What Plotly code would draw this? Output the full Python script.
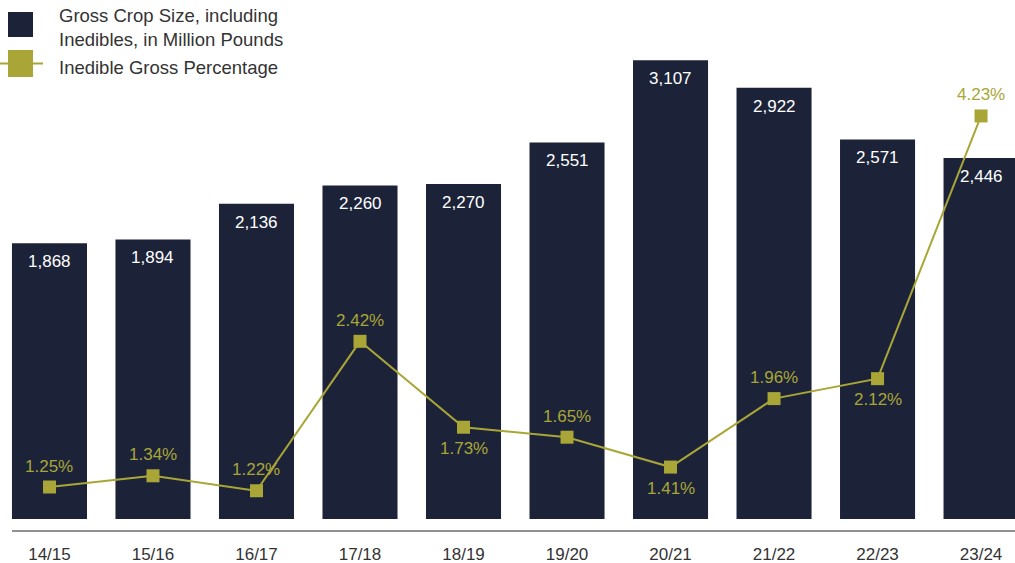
import plotly.graph_objects as go

seasons = ["14/15", "15/16", "16/17", "17/18", "18/19", "19/20", "20/21", "21/22", "22/23", "23/24"]
crop_size = [1868, 1894, 2136, 2260, 2270, 2551, 3107, 2922, 2571, 2446]
inedible_pct = [1.25, 1.34, 1.22, 2.42, 1.73, 1.65, 1.41, 1.96, 2.12, 4.23]
pct_label_pos = ["above", "above", "above", "above", "below", "above", "below", "above", "below", "above"]

NAVY = "#1C2339"
OLIVE = "#A9A637"
FONT = "Liberation Sans, Arial, sans-serif"

x_idx = list(range(len(seasons)))

fig = go.Figure()
fig.add_trace(go.Bar(
    x=x_idx, y=crop_size, marker=dict(color=NAVY, line=dict(width=0)),
    width=0.725, showlegend=False, hoverinfo="skip", yaxis="y",
))
fig.add_trace(go.Scatter(
    x=x_idx, y=inedible_pct, mode="lines+markers", yaxis="y2",
    line=dict(color=OLIVE, width=2),
    marker=dict(symbol="square", size=13, color=OLIVE),
    showlegend=False, hoverinfo="skip", cliponaxis=False,
))

ann = []
for i, v in enumerate(crop_size):
    ann.append(dict(x=i, y=v, xref="x", yref="y", text=f"{v:,}", showarrow=False,
                    yanchor="top", yshift=-7,
                    font=dict(family=FONT, size=17, color="white")))
for i, (v, pos) in enumerate(zip(inedible_pct, pct_label_pos)):
    ann.append(dict(x=i, y=v, xref="x", yref="y2", text=f"{v:.2f}%", showarrow=False,
                    yanchor="middle", yshift=(21 if pos == "above" else -21),
                    font=dict(family=FONT, size=17, color=OLIVE)))

# custom legend
H, W = 563, 1015
def py(px):  # pixel y -> paper y (plot area from 40 to 519)
    return (519 - px) / 479
def px_(x):
    return x / W

legend_text = [("Gross Crop Size, including<br>Inedibles, in Million Pounds", 27.5),
               ("Inedible Gross Percentage", 67)]
for t, yc in legend_text:
    ann.append(dict(x=px_(57), y=py(yc), xref="paper", yref="paper", text=t, showarrow=False,
                    xanchor="left", yanchor="middle", align="left",
                    font=dict(family=FONT, size=18.5, color="#333333")))

shapes = [
    dict(type="rect", xref="paper", yref="paper", x0=px_(8), x1=px_(33), y0=py(37), y1=py(12),
         fillcolor=NAVY, line=dict(width=0)),
    dict(type="line", xref="paper", yref="paper", x0=px_(0), x1=px_(43), y0=py(63.5), y1=py(63.5),
         line=dict(color=OLIVE, width=2)),
    dict(type="rect", xref="paper", yref="paper", x0=px_(8), x1=px_(33), y0=py(77), y1=py(50),
         fillcolor=OLIVE, line=dict(width=0)),
    dict(type="line", xref="paper", yref="paper", x0=px_(12), x1=1, y0=py(531), y1=py(531),
         line=dict(color="#6b6b6b", width=1.5)),
]

fig.update_layout(
    width=W, height=H,
    margin=dict(l=0, r=0, t=40, b=44),
    paper_bgcolor="white", plot_bgcolor="white",
    xaxis=dict(range=[-0.478, 9.328], tickmode="array", tickvals=x_idx, ticktext=seasons,
               showgrid=False, zeroline=False, showline=False, ticks="",
               ticklabelstandoff=23,
               tickfont=dict(family=FONT, size=17, color="#333333")),
    yaxis=dict(range=[0, 3245], visible=False, showgrid=False, zeroline=False),
    yaxis2=dict(range=[0.993, 4.84], overlaying="y", visible=False, showgrid=False, zeroline=False),
    annotations=ann, shapes=shapes,
    bargap=0.275,
)

fig.write_html("out.html", config={"displayModeBar": False},
               post_script="document.body.style.margin='0';document.body.style.overflow='hidden';")
